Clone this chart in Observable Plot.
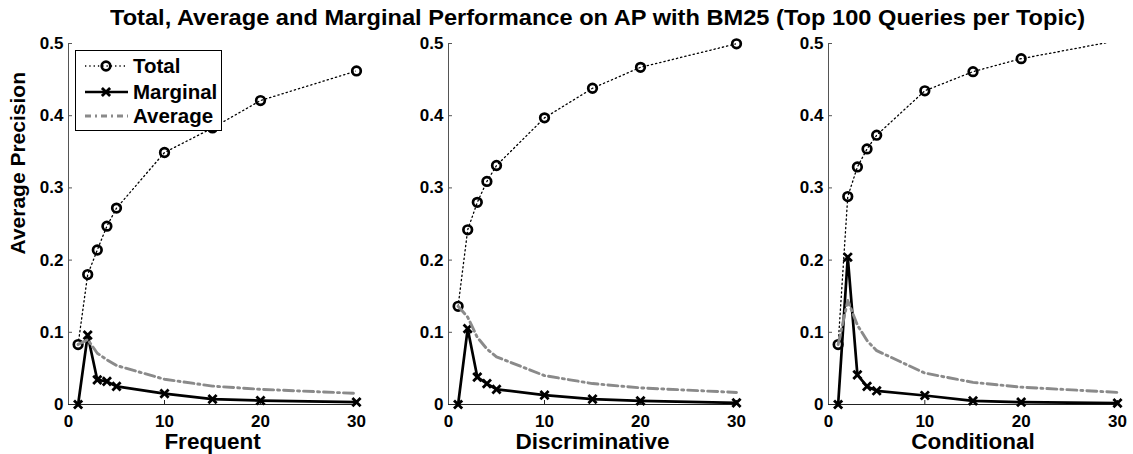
<!DOCTYPE html>
<html><head><meta charset="utf-8">
<script src="https://cdn.jsdelivr.net/npm/d3@7"></script>
<script src="https://cdn.jsdelivr.net/npm/@observablehq/plot@0.6"></script>
<style>
body{margin:0;background:#fff;}
#wrap{position:relative;width:1133px;height:454px;overflow:hidden;font-family:"Liberation Sans",Arial,Helvetica,sans-serif;font-weight:bold;color:#000;}
#title{position:absolute;left:0;top:0;white-space:nowrap;font-size:21.5px;line-height:1;transform-origin:0 0;}
.panel{position:absolute;top:0;}
#legend{position:absolute;left:75px;top:50px;width:147px;height:81px;box-sizing:border-box;border:1px solid #000;background:#fff;}
#legend svg{position:absolute;left:-1px;top:-1px;}
</style></head><body>
<div id="wrap"><span id="title">Total, Average and Marginal Performance on AP with BM25 (Top 100 Queries per Topic)</span></div>
<script>
// ---- data ----
const kValues = [1, 2, 3, 4, 5, 10, 15, 20, 30];
const panelNames = ["Frequent", "Discriminative", "Conditional"];
const yTickValues = [0, 0.1, 0.2, 0.3, 0.4, 0.5];
const xTickValues = [0, 10, 20, 30];
const seriesNames = ["Total", "Marginal", "Average"];

const totalFrequent       = [0.083, 0.180, 0.214, 0.247, 0.272, 0.349, 0.383, 0.421, 0.462];
const marginalFrequent    = [0.000, 0.096, 0.034, 0.032, 0.025, 0.015, 0.0074, 0.0055, 0.0032];
const averageFrequent     = [0.083, 0.090, 0.071, 0.062, 0.054, 0.035, 0.0255, 0.021, 0.0154];

const totalDiscriminative    = [0.136, 0.242, 0.280, 0.309, 0.331, 0.397, 0.438, 0.467, 0.4996];
const marginalDiscriminative = [0.000, 0.105, 0.038, 0.029, 0.021, 0.013, 0.0074, 0.0051, 0.0023];
const averageDiscriminative  = [0.136, 0.121, 0.093, 0.077, 0.066, 0.040, 0.029, 0.023, 0.0167];

const totalConditional    = [0.083, 0.288, 0.329, 0.354, 0.373, 0.4345, 0.461, 0.479, 0.504];
const marginalConditional = [0.000, 0.204, 0.041, 0.025, 0.019, 0.0125, 0.005, 0.0032, 0.0018];
const averageConditional  = [0.083, 0.144, 0.110, 0.0885, 0.0746, 0.0435, 0.0307, 0.024, 0.0168];

const totals = [totalFrequent, totalDiscriminative, totalConditional];
const marginals = [marginalFrequent, marginalDiscriminative, marginalConditional];
const averages = [averageFrequent, averageDiscriminative, averageConditional];

// ---- layout ----
const FONT = '"Liberation Sans", Arial, Helvetica, sans-serif';
const panelLeft = [0, 380, 760];
const panelMR = [24, 24, 23];
const ML = 68, MT = 43, MB = 50, PW = 380, PH = 454;
const wrap = document.getElementById("wrap");

panelNames.forEach((name, i) => {
  const rows = kValues.map((k, j) => ({k, total: totals[i][j], marginal: marginals[i][j], average: averages[i][j]}));
  const plotW = PW - ML - panelMR[i];
  const plotH = PH - MT - MB;
  const marks = [
    Plot.ruleX([0], {stroke: "#555", strokeWidth: 1}),
    Plot.ruleY([0], {stroke: "#222", strokeWidth: 1}),
    Plot.tickY(yTickValues.filter(d => d > 0), {y: d => d, insetRight: plotW - 4, stroke: "#555"}),
    Plot.tickX(xTickValues.filter(d => d > 0), {x: d => d, insetTop: plotH - 4, stroke: "#222"}),
    Plot.axisY({ticks: yTickValues, tickSize: 0, tickPadding: 5, label: null, fontSize: 17, fontWeight: "bold",
      tickFormat: d => d === 0 ? "0" : d.toFixed(1)}),
    Plot.axisX({ticks: xTickValues, tickSize: 0, tickPadding: 10, label: null, fontSize: 17, fontWeight: "bold",
      tickFormat: d => String(d)}),
    Plot.line(rows, {x: "k", y: "total", stroke: "#000", strokeWidth: 1.3, strokeDasharray: "1.3,3", clip: true}),
    Plot.dot(rows.filter(d => d.total <= 0.5), {x: "k", y: "total", r: 4.3, stroke: "#000", strokeWidth: 2.7, fill: "none"}),
    Plot.line(rows, {x: "k", y: "marginal", stroke: "#000", strokeWidth: 2.7}),
    Plot.dot(rows, {x: "k", y: "marginal", symbol: "times", r: 3.8, stroke: "#000", strokeWidth: 2.8}),
    Plot.line(rows, {x: "k", y: "average", stroke: "#8a8a8a", strokeWidth: 2.9, strokeDasharray: "10,4,2,4"}),
    Plot.text([name], {frameAnchor: "bottom", dy: 29, lineAnchor: "top", fontSize: 22.5, fontWeight: "bold", fill: "#000"})
  ];
  if (i === 0) {
    marks.push(Plot.text(["Average Precision"], {frameAnchor: "left", rotate: -90, dx: -50.5, dy: 30.5,
      lineAnchor: "middle", fontSize: 21, fontWeight: "bold", fill: "#000"}));
  }
  const chart = Plot.plot({
    width: PW, height: PH, marginTop: MT, marginBottom: MB, marginLeft: ML, marginRight: panelMR[i],
    style: {fontFamily: FONT, fontWeight: "bold", fontSize: "17px", color: "#000", background: "transparent", overflow: "visible"},
    x: {domain: [0, 30], label: null},
    y: {domain: [0, 0.5], label: null},
    marks
  });
  chart.classList.add("panel");
  chart.style.left = panelLeft[i] + "px";
  wrap.appendChild(chart);
});

// ---- title: stretched horizontally to the reference's span (x 110 .. 1085, baseline ~26) ----
const title = document.getElementById("title");
wrap.appendChild(title);
{
  const fs = 21.5;
  const w0 = title.getBoundingClientRect().width;
  const sx = 975 / w0;
  title.style.transform = `scaleX(${sx})`;
  title.style.left = "110px";
  title.style.top = (26 - 0.86 * fs) + "px";
}

// ---- legend ----
const legend = document.createElement("div");
legend.id = "legend";
const ns = "http://www.w3.org/2000/svg";
const lsvg = document.createElementNS(ns, "svg");
lsvg.setAttribute("width", 147); lsvg.setAttribute("height", 81);
const rowsY = [16, 42, 66];
const styles = [
  {stroke: "#000", sw: 1.3, dash: "1.3,3"},
  {stroke: "#000", sw: 2.7, dash: null},
  {stroke: "#8a8a8a", sw: 2.9, dash: "6,4,2,4"}
];
seriesNames.forEach((s, j) => {
  const y = rowsY[j];
  const ln = document.createElementNS(ns, "line");
  ln.setAttribute("x1", 10); ln.setAttribute("x2", 53); ln.setAttribute("y1", y); ln.setAttribute("y2", y);
  ln.setAttribute("stroke", styles[j].stroke); ln.setAttribute("stroke-width", styles[j].sw);
  if (styles[j].dash) ln.setAttribute("stroke-dasharray", styles[j].dash);
  lsvg.appendChild(ln);
  if (j === 0) {
    const c = document.createElementNS(ns, "circle");
    c.setAttribute("cx", 31); c.setAttribute("cy", y); c.setAttribute("r", 4.3);
    c.setAttribute("fill", "none"); c.setAttribute("stroke", "#000"); c.setAttribute("stroke-width", 2.7);
    lsvg.appendChild(c);
  } else if (j === 1) {
    const p = document.createElementNS(ns, "path");
    p.setAttribute("d", d3.symbol(d3.symbolTimes, Math.PI * 3.8 * 3.8)());
    p.setAttribute("transform", `translate(31,${y})`);
    p.setAttribute("fill", "none"); p.setAttribute("stroke", "#000"); p.setAttribute("stroke-width", 2.8);
    lsvg.appendChild(p);
  }
  const t = document.createElementNS(ns, "text");
  t.setAttribute("x", 58); t.setAttribute("y", y + 7);
  t.setAttribute("font-family", FONT); t.setAttribute("font-weight", "bold"); t.setAttribute("font-size", 20.5);
  t.textContent = s;
  lsvg.appendChild(t);
});
legend.appendChild(lsvg);
wrap.appendChild(legend);
</script>
</body></html>
